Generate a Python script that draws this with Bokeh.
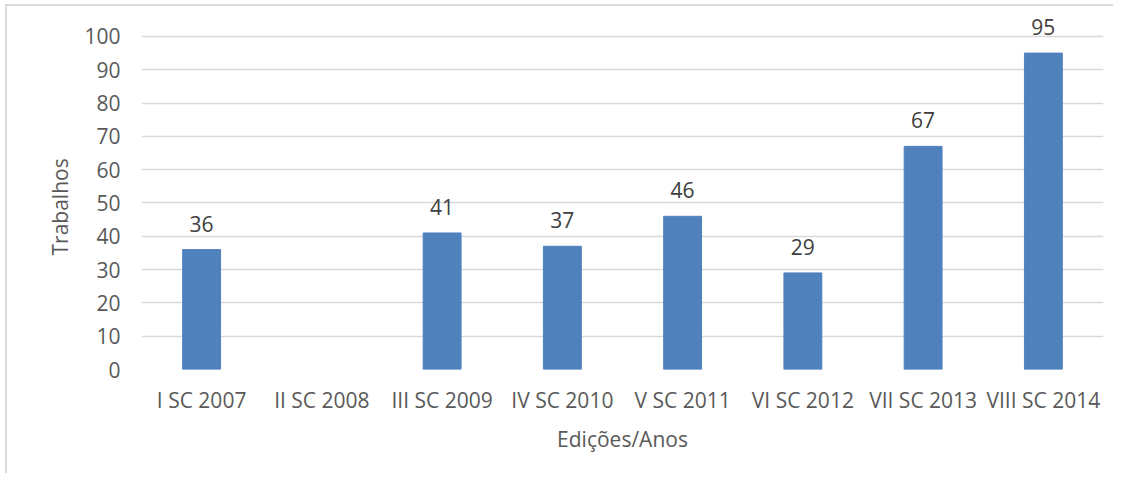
from bokeh.plotting import figure
from bokeh.models import (ColumnDataSource, LabelSet, FactorRange, SingleIntervalTicker,
                          Range1d, Title)
from bokeh.core.properties import value
from bokeh.embed import file_html
from bokeh.resources import INLINE

categories = ["I SC 2007", "II SC 2008", "III SC 2009", "IV SC 2010",
              "V SC 2011", "VI SC 2012", "VII SC 2013", "VIII SC 2014"]
values = [36, None, 41, 37, 46, 29, 67, 95]

x_title = "Edições/Anos"
y_title = "Trabalhos"

FONT = "Open Sans"
FS = "21px"
GRID = "#d9d9d9"
TICK_COLOR = "#595959"
BAR = "#4F81BD"

xs = [c for c, v in zip(categories, values) if v is not None]
ys = [v for v in values if v is not None]
src = ColumnDataSource(dict(x=xs, top=ys, lab=[str(v) for v in ys]))

p = figure(x_range=FactorRange(*categories), y_range=Range1d(0, 109),
           width=1108, height=469, output_backend="svg", toolbar_location=None,
           min_border_left=134, min_border_right=12, min_border_top=0, min_border_bottom=106)
p.styles = {"border-left": "2px solid #d9d9d9", "border-top": "2px solid #d9d9d9",
            "margin-left": "5px", "margin-top": "4px"}

p.vbar(x="x", top="top", width=0.315, source=src, fill_color=BAR, line_color=BAR)

labels = LabelSet(x="x", y="top", text="lab", source=src, y_offset=18,
                  text_align="center", text_baseline="bottom",
                  text_font=value(FONT), text_font_size=FS, text_color="#404040")
p.add_layout(labels)

p.outline_line_color = None
p.xgrid.grid_line_color = None
p.ygrid.grid_line_color = GRID
p.ygrid.grid_line_width = 1.5
p.yaxis.ticker = SingleIntervalTicker(interval=10)

for ax in (p.xaxis[0], p.yaxis[0]):
    ax.axis_line_color = None
    ax.major_tick_line_color = None
    ax.minor_tick_line_color = None
    ax.major_label_text_font = FONT
    ax.major_label_text_font_size = FS
    ax.major_label_text_color = TICK_COLOR
    ax.axis_label_text_font = FONT
    ax.axis_label_text_font_size = FS
    ax.axis_label_text_color = TICK_COLOR
    ax.axis_label_text_font_style = "normal"

p.xaxis.axis_label = x_title
p.xaxis.major_label_standoff = 10
p.yaxis.major_label_standoff = 15
p.xaxis.axis_label_standoff = 8

ytitle = Title(text=y_title, align="left", offset=114, standoff=16,
               text_font=FONT, text_font_size=FS, text_color=TICK_COLOR,
               text_font_style="normal")
p.add_layout(ytitle, "left")

open("out.html", "w").write(file_html(p, INLINE))
